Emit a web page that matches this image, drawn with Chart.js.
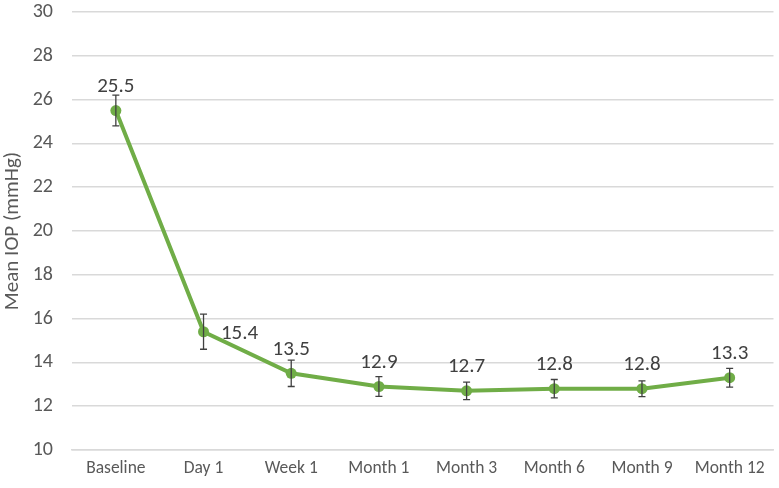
<!DOCTYPE html>
<html>
<head>
<meta charset="utf-8">
<script src="https://cdn.jsdelivr.net/npm/chart.js@4/dist/chart.umd.min.js"></script>
<style>
  html, body { margin: 0; padding: 0; background: #fff; }
  #wrap { width: 779px; height: 488px; }
</style>
</head>
<body>
<div id="wrap"><canvas id="iopChart"></canvas></div>
<script>
// Chart data
const timepoints = ["Baseline", "Day 1", "Week 1", "Month 1", "Month 3", "Month 6", "Month 9", "Month 12"];
const meanIop = [25.5, 15.4, 13.5, 12.9, 12.7, 12.8, 12.8, 13.3];
const iopError = [0.7, 0.8, 0.6, 0.45, 0.4, 0.42, 0.36, 0.43];
const yTicks = [10, 12, 14, 16, 18, 20, 22, 24, 26, 28, 30];

const fontFamily = "Carlito, Calibri, Lato, sans-serif";

// Draws the error bars and value labels from the scales
const errorBarsPlugin = {
    id: "errorBars",
    afterDatasetsDraw(chart) {
        const ctx = chart.ctx;
        const x = chart.scales.x;
        const y = chart.scales.y;
        ctx.save();
        ctx.strokeStyle = "#404040";
        ctx.lineWidth = 1.3;
        meanIop.forEach((v, i) => {
            const px = x.getPixelForValue(i);
            const top = y.getPixelForValue(v + iopError[i]);
            const bot = y.getPixelForValue(v - iopError[i]);
            ctx.beginPath();
            ctx.moveTo(px, top); ctx.lineTo(px, bot);
            ctx.moveTo(px - 3.5, top); ctx.lineTo(px + 3.5, top);
            ctx.moveTo(px - 3.5, bot); ctx.lineTo(px + 3.5, bot);
            ctx.stroke();
        });
        ctx.fillStyle = "#404040";
        ctx.font = "21px " + fontFamily;
        ctx.textAlign = "center";
        ctx.textBaseline = "middle";
        meanIop.forEach((v, i) => {
            const px = x.getPixelForValue(i);
            const py = y.getPixelForValue(v);
            if (i === 1) {
                ctx.fillText(v.toFixed(1), px + 36, py + 2);
            } else {
                ctx.fillText(v.toFixed(1), px, py - 24);
            }
        });
        ctx.restore();
    }
};

new Chart(document.getElementById("iopChart").getContext("2d"), {
    type: "line",
    data: {
        labels: timepoints,
        datasets: [{
            data: meanIop,
            borderColor: "#70AD47",
            backgroundColor: "#70AD47",
            borderWidth: 4,
            pointRadius: 5.5,
            pointBorderWidth: 0,
            pointHoverRadius: 5.5,
            tension: 0,
            fill: false
        }]
    },
    options: {
        responsive: true,
        maintainAspectRatio: false,
        animation: false,
        layout: { padding: { top: 0, right: 2, left: 0, bottom: 0 } },
        plugins: {
            legend: { display: false },
            tooltip: { enabled: false }
        },
        scales: {
            x: {
                offset: true,
                grid: { display: false, drawTicks: false },
                border: { color: "#D9D9D9", width: 1.5 },
                ticks: { color: "#595959", font: { family: fontFamily, size: 17.5 }, padding: 8, maxRotation: 0, autoSkip: false },
                afterFit(scale) { scale.height = 38; }
            },
            y: {
                min: 10,
                max: 30,
                afterBuildTicks(scale) { scale.ticks = yTicks.map(v => ({ value: v })); },
                grid: { color: "#D9D9D9", lineWidth: 1.5, drawTicks: false },
                border: { display: false },
                ticks: { color: "#595959", font: { family: fontFamily, size: 20 }, padding: 19 },
                title: { display: true, text: "Mean IOP (mmHg)", color: "#595959", font: { family: fontFamily, size: 21 }, padding: 0 },
                afterFit(scale) {
                    scale.width = 72;
                    scale.paddingTop = 12;
                    scale.paddingBottom = 0;
                }
            }
        }
    },
    plugins: [errorBarsPlugin]
});
</script>
</body>
</html>
